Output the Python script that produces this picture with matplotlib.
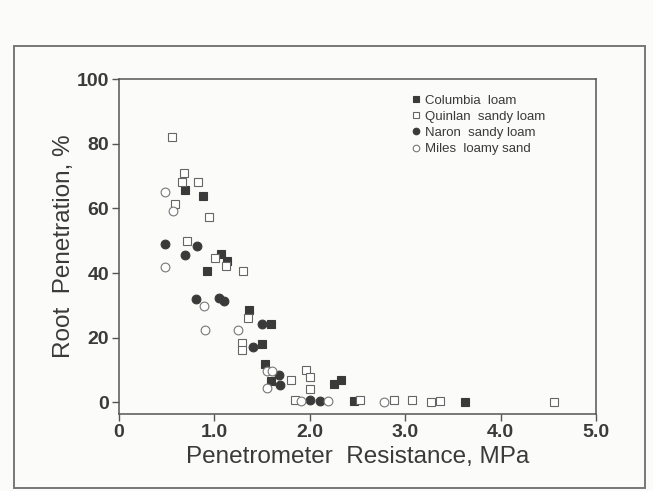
import matplotlib
matplotlib.use("Agg")
import matplotlib.pyplot as plt
from matplotlib.patches import Rectangle

plt.rcParams["font.family"] = ["Liberation Sans", "DejaVu Sans"]

# Data (Penetrometer resistance MPa, root penetration %)
columbia_x = [0.69, 0.88, 1.07, 1.13, 0.92, 1.36, 1.59, 1.50, 1.53, 1.59, 2.25, 2.33, 2.46, 3.63]
columbia_y = [65.8, 63.9, 45.9, 43.6, 40.7, 28.7, 24.3, 18.2, 12.0, 6.5, 5.8, 6.8, 0.3, 0.0]

quinlan_x = [0.56, 0.68, 0.66, 0.83, 0.59, 0.94, 0.71, 1.01, 1.12, 1.30, 1.35, 1.29, 1.29,
             1.80, 1.96, 2.00, 2.00, 1.84, 2.53, 2.88, 3.07, 3.27, 3.37, 4.56]
quinlan_y = [82.0, 70.8, 68.3, 68.1, 61.2, 57.4, 49.8, 44.8, 42.1, 40.6, 26.1, 18.5, 16.1,
             6.8, 10.1, 8.0, 4.0, 0.6, 0.8, 0.8, 0.8, 0.0, 0.3, 0.0]

naron_x = [0.48, 0.82, 0.69, 0.81, 1.05, 1.10, 1.50, 1.41, 1.68, 1.69, 2.00, 2.11]
naron_y = [48.9, 48.3, 45.5, 32.1, 32.4, 31.3, 24.3, 17.2, 8.4, 5.3, 0.6, 0.5]

miles_x = [0.48, 0.57, 0.48, 0.89, 0.90, 1.25, 1.55, 1.60, 1.55, 1.91, 2.19, 2.78]
miles_y = [65.0, 59.1, 41.8, 29.9, 22.5, 22.3, 9.6, 9.6, 4.4, 0.4, 0.3, 0.2]

series_labels = ["Columbia  loam", "Quinlan  sandy loam", "Naron  sandy loam", "Miles  loamy sand"]
x_ticks = [0, 1, 2, 3, 4, 5]
x_tick_labels = ["0", "1.0", "2.0", "3.0", "4.0", "5.0"]
y_ticks = [0, 20, 40, 60, 80, 100]

ink = "#3a3a3a"
bg = "#fbfbf9"

fig = plt.figure(figsize=(6.53, 4.91), dpi=100, facecolor=bg)
ax = fig.add_axes([0.1822, 0.1568, 0.7305, 0.6822])
ax.set_facecolor(bg)

ms = 5.8
ax.plot(columbia_x, columbia_y, ls="none", marker="s", ms=ms, mfc=ink, mec=ink, mew=0.8,
        label=series_labels[0])
ax.plot(quinlan_x, quinlan_y, ls="none", marker="s", ms=ms, mfc="white", mec="#666666", mew=0.8,
        label=series_labels[1])
ax.plot(naron_x, naron_y, ls="none", marker="o", ms=ms + 0.5, mfc=ink, mec=ink, mew=0.8,
        label=series_labels[2])
ax.plot(miles_x, miles_y, ls="none", marker="o", ms=ms + 0.5, mfc="white", mec="#777777", mew=0.8,
        label=series_labels[3])

ax.set_xlim(0, 5)
ax.set_ylim(-3.6, 100)
ax.set_xticks(x_ticks)
ax.set_xticklabels(x_tick_labels)
ax.set_yticks(y_ticks)

for sp in ax.spines.values():
    sp.set_color("#555555")
    sp.set_linewidth(1.1)

ax.tick_params(axis="both", direction="out", length=5, width=1, color="#555555",
               labelsize=14, labelcolor=ink, pad=2)
for lbl in ax.get_xticklabels() + ax.get_yticklabels():
    lbl.set_fontweight("bold")

ax.set_xlabel("Penetrometer  Resistance, MPa", fontsize=17.5, color=ink, labelpad=4)
ax.set_ylabel("Root  Penetration, %", fontsize=17.5, color=ink, labelpad=1.5)

leg = ax.legend(loc="upper left", bbox_to_anchor=(0.603, 0.97), frameon=False,
                fontsize=9.5, handlelength=0.6, handletextpad=0.4, labelspacing=0.3,
                markerscale=0.75, borderaxespad=0)
for t in leg.get_texts():
    t.set_color(ink)

# outer frame around figure
fig.patches.append(Rectangle((0.0214, 0.006), 0.9663, 0.900, transform=fig.transFigure,
                             fill=False, edgecolor="#777777", linewidth=1.4))

fig.savefig("out.png", dpi=100, facecolor=bg)
